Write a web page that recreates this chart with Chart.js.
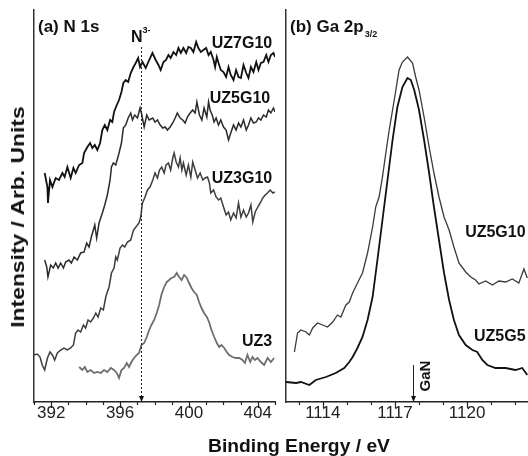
<!DOCTYPE html>
<html>
<head>
<meta charset="utf-8">
<script src="https://cdn.jsdelivr.net/npm/chart.js@4.4.0/dist/chart.umd.min.js"></script>
<style>
  html, body { margin: 0; padding: 0; background: #fff; }
  #wrap { position: relative; width: 528px; height: 456px; overflow: hidden; font-family: "Liberation Sans", Arial, sans-serif; }
  #wrap canvas { position: absolute; top: 0; }
  #n1s { left: 0; }
  #ga2p { left: 280px; }
  .axis-title { position: absolute; font-weight: bold; font-size: 18px; line-height: 18px; white-space: nowrap; color: #111; }
  #ytitle { left: 18px; top: 217px; transform: translate(-50%, -50%) rotate(-90deg) scaleX(1.27); }
  #xtitle { left: 299px; top: 437px; transform: translateX(-50%) scaleX(1.07); }
</style>
</head>
<body>
<div id="wrap">
  <canvas id="n1s" width="280" height="456" style="width:280px;height:456px"></canvas>
  <canvas id="ga2p" width="248" height="456" style="width:248px;height:456px"></canvas>
  <div class="axis-title" id="ytitle">Intensity / Arb. Units</div>
  <div class="axis-title" id="xtitle">Binding Energy / eV</div>
</div>
<script>
// (a) N 1s - binding energy axis
const n1sTicks = [391, 392, 393, 394, 395, 396, 397, 398, 399, 400, 401, 402, 403, 404, 405];
const n1sTickLabels = [392, 396, 400, 404];

const uz7g10E = [391.62, 391.78, 391.81, 391.93, 392.07, 392.26, 392.45, 392.65, 392.78, 392.94,
  393.13, 393.29, 393.42, 393.62, 393.81, 393.91, 394.10, 394.26, 394.39, 394.53,
  394.68, 394.84, 394.97, 395.11, 395.26, 395.42, 395.55, 395.65, 395.81, 395.94,
  396.08, 396.19, 396.33, 396.47, 396.62, 396.78, 396.91, 397.05, 397.16, 397.30,
  397.49, 397.69, 397.88, 398.07, 398.23, 398.36, 398.52, 398.67, 398.81, 398.94,
  399.10, 399.26, 399.39, 399.53, 399.68, 399.84, 399.97, 400.11, 400.26, 400.42,
  400.55, 400.69, 400.84, 401.00, 401.14, 401.27, 401.43, 401.52, 401.62, 401.72,
  401.85, 402.01, 402.16, 402.30, 402.43, 402.59, 402.74, 402.88, 403.02, 403.17,
  403.33, 403.46, 403.60, 403.75, 403.91, 404.04, 404.18, 404.33, 404.49, 404.62,
  404.76, 404.91, 405.00];
const uz7g10 = [229, 215, 199, 222, 215, 224, 222, 229, 225, 235,
  224, 234, 229, 237, 239, 249, 255, 259, 254, 257,
  252, 259, 272, 277, 272, 282, 280, 290, 297, 302,
  310, 319, 322, 320, 329, 335, 339, 344, 335, 340,
  334, 342, 349, 342, 337, 332, 340, 342, 347, 344,
  350, 347, 354, 349, 354, 349, 355, 354, 350, 360,
  354, 350, 352, 354, 347, 350, 342, 335, 345, 339,
  332, 330, 325, 335, 327, 322, 332, 325, 324, 337,
  329, 324, 335, 330, 340, 332, 339, 340, 347, 340,
  347, 349, 345];

const uz5g10E = [391.62, 391.74, 391.81, 391.97, 392.12, 392.26, 392.40, 392.55, 392.71, 392.84,
  393.03, 393.17, 393.33, 393.52, 393.71, 393.91, 394.06, 394.20, 394.33, 394.45,
  394.53, 394.64, 394.78, 394.97, 395.11, 395.26, 395.42, 395.50, 395.61, 395.75,
  395.94, 396.08, 396.19, 396.33, 396.47, 396.62, 396.72, 396.85, 397.01, 397.16,
  397.24, 397.40, 397.55, 397.69, 397.90, 398.03, 398.17, 398.33, 398.48, 398.62,
  398.75, 398.91, 399.06, 399.20, 399.33, 399.49, 399.64, 399.78, 399.91, 400.07,
  400.22, 400.36, 400.46, 400.61, 400.75, 400.88, 401.04, 401.14, 401.23, 401.35,
  401.46, 401.58, 401.72, 401.85, 402.01, 402.16, 402.30, 402.43, 402.59, 402.74,
  402.88, 403.02, 403.17, 403.33, 403.46, 403.60, 403.75, 403.91, 404.04, 404.18,
  404.33, 404.49, 404.62, 404.76, 404.91, 405.00];
const uz5g10 = [142, 135, 125, 137, 134, 139, 134, 139, 134, 140,
  142, 139, 145, 142, 149, 150, 159, 155, 165, 172,
  177, 164, 179, 189, 197, 207, 222, 235, 239, 237,
  249, 259, 274, 277, 284, 289, 282, 287, 284, 294,
  289, 275, 287, 282, 284, 280, 282, 277, 274, 275,
  272, 275, 279, 284, 289, 284, 282, 279, 285, 289,
  292, 289, 300, 287, 282, 294, 285, 300, 292, 287,
  280, 284, 277, 282, 275, 272, 262, 269, 277, 272,
  279, 275, 282, 272, 277, 284, 279, 280, 284, 282,
  287, 285, 292, 289, 294, 290];

const uz3g10E = [391.00, 391.19, 391.35, 391.48, 391.62, 391.78, 391.93, 392.07, 392.20, 392.36,
  392.55, 392.74, 392.94, 393.13, 393.29, 393.42, 393.56, 393.71, 393.87, 394.00,
  394.14, 394.29, 394.45, 394.59, 394.72, 394.88, 395.03, 395.17, 395.26, 395.36,
  395.50, 395.65, 395.75, 395.84, 396.00, 396.14, 396.27, 396.43, 396.62, 396.78,
  397.10, 397.20, 397.30, 397.43, 397.59, 397.74, 397.90, 398.03, 398.17, 398.29,
  398.42, 398.56, 398.67, 398.81, 398.94, 399.06, 399.14, 399.26, 399.39, 399.49,
  399.59, 399.68, 399.84, 399.97, 400.11, 400.22, 400.36, 400.50, 400.65, 400.81,
  400.94, 401.08, 401.19, 401.27, 401.43, 401.58, 401.72, 401.85, 402.01, 402.16,
  402.30, 402.43, 402.59, 402.74, 402.88, 403.02, 403.17, 403.33, 403.46, 403.60,
  403.71, 403.85, 404.00, 404.14, 404.29, 404.43, 404.56, 404.72, 404.88, 405.00];
const uz3g10 = [47, 48, 45, 37, 32, 44, 50, 47, 42, 49,
  52, 54, 52, 54, 57, 69, 72, 70, 77, 74,
  82, 80, 84, 89, 85, 94, 92, 105, 110, 115,
  129, 134, 145, 142, 154, 157, 155, 160, 162, 172,
  179, 185, 199, 204, 212, 215, 222, 229, 224, 232,
  235, 229, 237, 239, 232, 244, 249, 240, 235, 244,
  232, 239, 227, 237, 225, 240, 232, 224, 229, 222,
  224, 225, 219, 209, 212, 205, 202, 204, 195, 187,
  190, 182, 189, 184, 199, 185, 192, 185, 189, 197,
  180, 190, 195, 199, 204, 207, 209, 212, 209, 210];

const uz3E = [393.62, 393.81, 393.95, 394.10, 394.29, 394.49, 394.68, 394.88, 395.07, 395.26,
  395.46, 395.65, 395.81, 395.94, 396.08, 396.23, 396.39, 396.52, 396.66, 396.81,
  396.97, 397.10, 397.24, 397.40, 397.55, 397.69, 397.82, 397.98, 398.13, 398.27,
  398.40, 398.56, 398.71, 398.85, 398.98, 399.14, 399.29, 399.43, 399.57, 399.72,
  399.88, 400.01, 400.15, 400.30, 400.46, 400.59, 400.73, 400.88, 401.04, 401.17,
  401.31, 401.47, 401.62, 401.76, 401.89, 402.05, 402.20, 402.34, 402.53, 402.72,
  402.92, 403.11, 403.25, 403.40, 403.56, 403.69, 403.83, 403.98, 404.18, 404.37,
  404.57, 404.76, 404.95];
const uz3 = [35, 32, 35, 30, 32, 29, 30, 29, 32, 30,
  34, 32, 29, 24, 32, 34, 39, 35, 40, 44,
  47, 49, 57, 59, 65, 72, 77, 82, 89, 97,
  107, 115, 120, 122, 124, 125, 129, 125, 122, 127,
  124, 119, 114, 110, 107, 100, 94, 89, 85, 80,
  72, 65, 59, 55, 57, 54, 50, 47, 45, 44,
  44, 42, 39, 47, 40, 45, 42, 44, 40, 37,
  44, 40, 44];

// (b) Ga 2p3/2
const gaTicks = [1113, 1114, 1115, 1116, 1117, 1118, 1119, 1120, 1121, 1122];
const gaTickLabels = [1114, 1117, 1120];

const gaUz5g10E = [1112.82, 1112.95, 1113.09, 1113.30, 1113.44, 1113.58, 1113.78, 1113.99, 1114.20, 1114.41,
  1114.61, 1114.75, 1114.96, 1115.10, 1115.24, 1115.44, 1115.65, 1115.86, 1116.07, 1116.20,
  1116.34, 1116.48, 1116.62, 1116.76, 1116.97, 1117.17, 1117.31, 1117.52, 1117.73, 1117.86,
  1118.00, 1118.21, 1118.42, 1118.62, 1118.83, 1119.04, 1119.25, 1119.45, 1119.66, 1119.94,
  1120.15, 1120.35, 1120.49, 1120.77, 1121.05, 1121.32, 1121.60, 1121.88, 1122.15, 1122.36,
  1122.50];
const gaUz5g10 = [50, 69, 72, 70, 67, 74, 79, 77, 75, 80,
  87, 85, 97, 100, 109, 119, 129, 149, 175, 195,
  205, 225, 249, 272, 302, 332, 340, 345, 339, 325,
  312, 285, 255, 229, 205, 185, 172, 155, 139, 130,
  125, 122, 118, 121, 117, 121, 120, 123, 119, 133,
  124];

const gaUz5g5E = [1112.47, 1112.89, 1113.09, 1113.44, 1113.71, 1114.13, 1114.54, 1114.89, 1115.10, 1115.24,
  1115.44, 1115.65, 1115.86, 1116.07, 1116.27, 1116.48, 1116.69, 1116.90, 1117.10, 1117.31,
  1117.52, 1117.66, 1117.80, 1118.00, 1118.21, 1118.42, 1118.62, 1118.83, 1119.04, 1119.25,
  1119.45, 1119.66, 1119.94, 1120.22, 1120.42, 1120.63, 1120.84, 1121.18, 1121.60, 1122.01,
  1122.29, 1122.50];
const gaUz5g5 = [20, 19, 20, 17, 22, 25, 29, 34, 40, 45,
  54, 65, 82, 105, 142, 182, 222, 262, 295, 315,
  324, 322, 312, 292, 262, 229, 195, 162, 129, 102,
  82, 67, 57, 52, 50, 42, 37, 34, 34, 32,
  34, 27];

const FONT = '"Liberation Sans", Arial, sans-serif';

function series(energies, counts, color, width) {
  return {
    data: energies.map((e, i) => ({ x: e, y: counts[i] })),
    borderColor: color,
    borderWidth: width,
    pointRadius: 0,
    tension: 0,
    fill: false
  };
}

function boldText(ctx, str, x, y, size, align) {
  ctx.font = `bold ${size}px ${FONT}`;
  ctx.textAlign = align || 'left';
  ctx.fillText(str, x, y);
  return ctx.measureText(str).width;
}

function arrowDown(ctx, x, yTop, yTip, dashed) {
  ctx.setLineDash(dashed ? [2, 2] : []);
  ctx.beginPath();
  ctx.moveTo(x, yTop);
  ctx.lineTo(x, yTip - 5);
  ctx.stroke();
  ctx.setLineDash([]);
  ctx.beginPath();
  ctx.moveTo(x - 2.5, yTip - 6);
  ctx.lineTo(x + 2.5, yTip - 6);
  ctx.lineTo(x, yTip);
  ctx.closePath();
  ctx.fill();
}

// ticks, panel title, curve names and the marker arrow
const notesPlugin = {
  id: 'notes',
  afterDraw(chart, args, opts) {
    const { ctx, chartArea, scales: { x, y } } = chart;
    ctx.save();
    ctx.strokeStyle = '#222';
    ctx.fillStyle = '#111';
    ctx.lineWidth = 1.2;
    x.ticks.forEach((t, i) => {
      const px = Math.round(x.getPixelForTick(i)) + 0.5;
      const len = opts.labelTicks.includes(t.value) ? 6 : 3;
      ctx.beginPath();
      ctx.moveTo(px, chartArea.bottom);
      ctx.lineTo(px, chartArea.bottom + len);
      ctx.stroke();
    });

    ctx.textBaseline = 'alphabetic';
    const w = boldText(ctx, opts.title, chartArea.left + 4, chartArea.top + 22, 17);
    if (opts.titleSub) boldText(ctx, opts.titleSub, chartArea.left + 5 + w, chartArea.top + 27, 9);

    ctx.textBaseline = 'middle';
    opts.curveLabels.forEach(l => boldText(ctx, l.text, x.getPixelForValue(l.x), y.getPixelForValue(l.y), 16, 'right'));

    const m = opts.marker;
    const mx = Math.round(x.getPixelForValue(m.x)) + 0.5;
    ctx.lineWidth = 1;
    arrowDown(ctx, mx, y.getPixelForValue(m.from), chartArea.bottom, m.dashed);
    if (m.rotated) {
      ctx.save();
      ctx.translate(mx + 12, y.getPixelForValue(m.from) + 11);
      ctx.rotate(-Math.PI / 2);
      ctx.textBaseline = 'middle';
      boldText(ctx, m.text, 0, 0, 15, 'center');
      ctx.restore();
    } else {
      ctx.textBaseline = 'alphabetic';
      boldText(ctx, m.text, mx + 1, y.getPixelForValue(m.from) - 5, 16, 'right');
      boldText(ctx, m.sup, mx + 1, y.getPixelForValue(m.from) - 14, 9, 'left');
    }
    ctx.restore();
  }
};

function energyAxis(min, max, tickValues, tickLabels) {
  return {
    type: 'linear',
    min: min,
    max: max,
    afterBuildTicks: s => { s.ticks = tickValues.map(v => ({ value: v })); },
    afterFit: s => { s.height = 54; },
    ticks: {
      autoSkip: false,
      maxRotation: 0,
      padding: 1,
      color: '#222',
      font: { family: FONT, size: 17 },
      callback: v => tickLabels.includes(v) ? String(v) : ''
    },
    grid: { display: false, drawTicks: false },
    border: { display: true, color: '#222', width: 1.5 }
  };
}

const intensityAxis = {
  min: 0,
  max: 392,
  ticks: { display: false },
  grid: { display: false, drawTicks: false },
  border: { display: true, color: '#333', width: 1.5 }
};

new Chart(document.getElementById('n1s'), {
  type: 'line',
  data: {
    datasets: [
      series(uz7g10E, uz7g10, '#111', 1.8),
      series(uz5g10E, uz5g10, '#2b2b2b', 1.5),
      series(uz3g10E, uz3g10, '#3d3d3d', 1.5),
      series(uz3E, uz3, '#6e6e6e', 1.8)
    ]
  },
  options: {
    responsive: false,
    animation: false,
    layout: { padding: { left: 34, top: 10, right: 5, bottom: 0 } },
    plugins: {
      legend: { display: false },
      tooltip: { enabled: false },
      notes: {
        title: '(a) N 1s',
        labelTicks: n1sTickLabels,
        curveLabels: [
          { text: 'UZ7G10', x: 404.84, y: 358 },
          { text: 'UZ5G10', x: 404.72, y: 303 },
          { text: 'UZ3G10', x: 404.84, y: 223 },
          { text: 'UZ3', x: 404.84, y: 60 }
        ],
        marker: { x: 397.2, from: 355, text: 'N', sup: '3-', dashed: true }
      }
    },
    scales: { x: energyAxis(391, 405, n1sTicks, n1sTickLabels), y: intensityAxis }
  },
  plugins: [notesPlugin]
});

new Chart(document.getElementById('ga2p'), {
  type: 'line',
  data: {
    datasets: [
      series(gaUz5g10E, gaUz5g10, '#3a3a3a', 1.3),
      series(gaUz5g5E, gaUz5g5, '#111', 1.8)
    ]
  },
  options: {
    responsive: false,
    animation: false,
    layout: { padding: { left: 6, top: 10, right: 0, bottom: 0 } },
    plugins: {
      legend: { display: false },
      tooltip: { enabled: false },
      notes: {
        title: '(b) Ga 2p',
        titleSub: '3/2',
        labelTicks: gaTickLabels,
        curveLabels: [
          { text: 'UZ5G10', x: 1122.43, y: 169 },
          { text: 'UZ5G5', x: 1122.43, y: 65 }
        ],
        marker: { x: 1117.77, from: 37, text: 'GaN', rotated: true }
      }
    },
    scales: { x: energyAxis(1112.47, 1122.53, gaTicks, gaTickLabels), y: intensityAxis }
  },
  plugins: [notesPlugin]
});
</script>
</body>
</html>
